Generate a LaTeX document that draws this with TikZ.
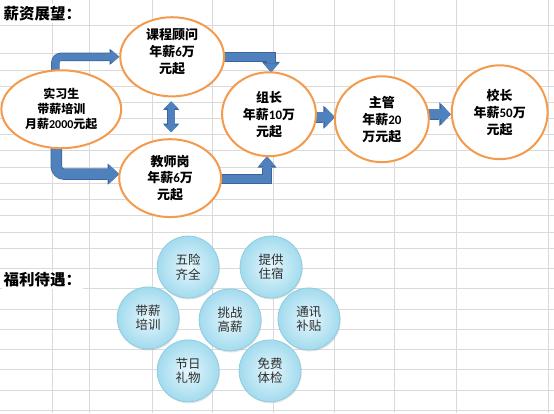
\documentclass[tikz,border=0pt]{standalone}
\usepackage{fontspec}
\setmainfont{Noto Sans CJK SC}
\newfontfamily\latn{Carlito}
\usetikzlibrary{shapes.geometric,arrows.meta,calc,shadows}
\definecolor{gridc}{HTML}{DADADA}
\definecolor{orng}{HTML}{F39A4C}
\definecolor{afill}{HTML}{4F81BD}
\definecolor{aborder}{HTML}{3A649A}
\definecolor{binner}{HTML}{E6F6FC}
\definecolor{bouter}{HTML}{A2DBEE}
\definecolor{bdraw}{HTML}{8ECCE0}
\definecolor{btext}{HTML}{2E2E2E}
\pgfdeclarelayer{bg}
\pgfdeclarelayer{arr}
\pgfsetlayers{bg,arr,main}
\tikzset{
  tipend/.style 2 args={arrows={-{Triangle[length=#1pt,width=#2pt,line width=0pt]}}},
  tipboth/.style 2 args={arrows={{Triangle[length=#1pt,width=#2pt,line width=0pt]}-{Triangle[length=#1pt,width=#2pt,line width=0pt]}}},
}
% #1 outer lw, #2 outer len, #3 outer wid, #4 inner lw, #5 inner len, #6 inner wid, #7 tip style, #8 options, #9 path
\newcommand\BA[9]{%
  \draw[draw=aborder, line width=#1pt, line join=miter, #7={#2}{#3}, #8] #9;
  \draw[draw=afill, line width=#4pt, line join=miter, #7={#5}{#6}, #8] #9;
}
\begin{document}
\begin{tikzpicture}[x=1pt,y=-1pt,
  gridl/.style={draw=gridc, line width=0.8pt},
  titletext/.style={fill=white, inner sep=2pt, anchor=west, font=\fontsize{15.5}{18}\selectfont\bfseries},
  oval/.style={ellipse, draw=orng, line width=2pt, fill=white, inner sep=0pt, align=center,
               font=\fontsize{13}{17}\selectfont\bfseries},
  bub/.style={circle, minimum size=62pt, inner sep=0pt, draw=bdraw, line width=0.8pt,
              inner color=binner, outer color=bouter, align=center, text=btext,
              font=\fontsize{12.5}{14.5}\selectfont,
              drop shadow={opacity=0.22, shadow xshift=0.8pt, shadow yshift=-1.5pt}},
]
\begin{pgfonlayer}{bg}
  \fill[white] (0,0) rectangle (554,413);
  \foreach \x in {52,89,152,212,273,334,395,457,549}
    \draw[gridl] (\x,0) -- (\x,413);
  \foreach \y in {25,53,70,86,102,118,134,150,167,183,199,215,232,248,268,288,309,329,350,370,391,411}
    \draw[gridl] (0,\y) -- (554,\y);
\end{pgfonlayer}
\useasboundingbox (0,0) rectangle (554,413);

% titles
\node[titletext] (t1) at (1,13) {薪资展望：};
\node[titletext] (t2) at (1,280) {福利待遇：};

% career ellipses
\node[oval, minimum width=120pt, minimum height=78pt, font=\fontsize{12}{15}\selectfont\bfseries]
  (intern) at (61,109) {实习生\\带薪培训\\月薪{\latn 2000}元起};
\node[oval, minimum width=104pt, minimum height=73pt] (course) at (172,56.5) {课程顾问\\年薪{\latn 6}万\\元起\\[-6pt]};
\node[oval, minimum width=102pt, minimum height=78pt] (teacher) at (170,178) {教师岗\\年薪{\latn 6}万\\元起};
\node[oval, minimum width=94pt, minimum height=84pt] (leader) at (269,114) {组长\\年薪{\latn 10}万\\元起};
\node[oval, minimum width=94pt, minimum height=86pt] (main) at (382,119) {主管\\年薪{\latn 20}\\万元起};
\node[oval, minimum width=96pt, minimum height=94pt] (boss) at (500,112) {校长\\年薪{\latn 50}万\\元起};

% block arrows
\begin{pgfonlayer}{arr}
  \BA{8.4}{9.5}{16}{7}{8}{14}{tipend}{rounded corners=6pt}
     {($(intern.north)+(-6,4)$) |- (course.west)}
  \BA{11.4}{11.5}{21}{10}{10}{19}{tipend}{rounded corners=8pt}
     {($(intern.south)+(-5,-4)$) |- ($(teacher.west)+(1,-4)$)}
  \BA{9.4}{10.5}{18}{8}{9}{16}{tipend}{}
     {($(course.east)+(-3,0)$) -| ($(leader.north)+(2,1)$)}
  \BA{9.4}{11.5}{19}{8}{10}{17}{tipend}{}
     {($(teacher.east)+(-3,1)$) -| ($(leader.south)+(-2,-1)$)}
  \BA{8.4}{8.5}{16}{7}{7}{14}{tipboth}{}
     {($(course.south)+(-1,4)$) -- ($(teacher.north)+(1,-6)$)}
  \BA{11.4}{11.5}{23}{10}{10}{21}{tipend}{}
     {($(leader.east)+(-3,3)$) -- ($(main.west)+(1,-2)$)}
  \BA{11.4}{11.5}{24}{10}{10}{22}{tipend}{}
     {($(main.east)+(-3,-5)$) -- ($(boss.west)+(0,2)$)}
\end{pgfonlayer}

% welfare bubbles
\node[bub] (b1) at (188,267) {五险\\齐全};
\node[bub] (b2) at (271,267) {提供\\住宿};
\node[bub] (b3) at (148,318) {带薪\\培训};
\node[bub] (b4) at (230,320) {挑战\\高薪};
\node[bub] (b5) at (309,319) {通讯\\补贴};
\node[bub] (b6) at (188,371) {节日\\礼物};
\node[bub] (b7) at (270,371) {免费\\体检};
\end{tikzpicture}
\end{document}
